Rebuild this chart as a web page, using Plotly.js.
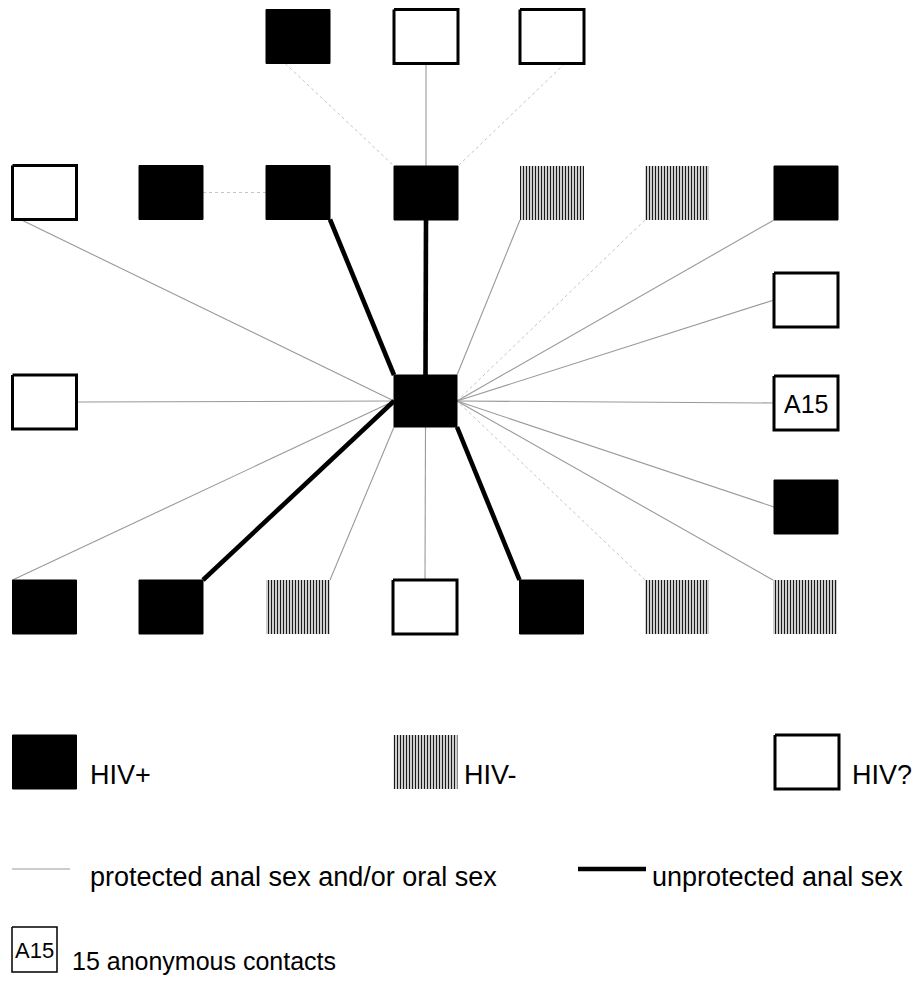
<!DOCTYPE html>
<html>
<head>
<meta charset="utf-8">
<script src="https://cdn.plot.ly/plotly-3.0.1.min.js"></script>
<style>html,body{margin:0;padding:0;background:#fff;}#chart{width:913px;height:995px;}</style>
</head>
<body>
<div id="chart"></div>
<script>
// ---------- DATA ----------
// nodes of the contact network (centre = index case)
const nodeIds     = ['T1','T2','T3','R1','R2','R3','R4','R5','R6','R7','E3','A15','E5','L','C','B1','B2','B3','B4','B5','B6','B7'];
const nodeX       = [298, 426, 552, 44.5, 171, 298, 426, 552, 677, 806, 806, 806, 806, 44.5, 425.5, 44.5, 171, 298, 425, 551.5, 677, 805];
const nodeY       = [36.5, 36.5, 36.5, 192.5, 192.5, 192.5, 193, 193, 193, 193, 300, 403, 507, 402, 401, 607, 607, 607, 607, 607, 607, 607];
const nodeStatus  = ['pos','unk','unk','unk','pos','pos','pos','neg','neg','pos','unk','unk','pos','unk','pos','pos','pos','neg','unk','pos','neg','neg'];
const nodeLabel   = ['','','','','','','','','','','','A15','','','','','','','','','',''];

// edges: source, target, contact type ('prot' = protected anal/oral sex, 'unprot' = unprotected anal sex)
const edgeSource  = ['T1','T2','T3','R1','R2','R3','R4','R5','R6','R7','E3','A15','E5','B7','B6','B5','B4','B3','B2','B1','L'];
const edgeTarget  = ['R4','R4','R4','C','R3','C','C','C','C','C','C','C','C','C','C','C','C','C','C','C','C'];
const edgeType    = ['prot','prot','prot','prot','prot','unprot','unprot','prot','prot','prot','prot','prot','prot','prot','prot','unprot','prot','prot','unprot','prot','prot'];
// where on each box the line attaches (fraction of half-width / half-height; y down)
const edgeSrcAnchorX = [-0.4, 0, 0.4, -0.75, 1, 1, 0, -1, -1, -1, -1, -1, -1, -1, -1, -1, 0, 1, 1, -1, 1];
const edgeSrcAnchorY = [1, 1, 1, 1, 0, 1, 1, 1, 1, 1, 0, 0, 0, -1, -1, -1, -1, -1, -1, -1, 0];
const edgeDstAnchorX = [-1, 0, 1, -1, -1, -1, 0, 1, 1, 1, 1, 1, 1, 1, 1, 1, 0, -1, -1, -1, -1];
const edgeDstAnchorY = [-1, -1, -1, 0, 0, -1, -1, -1, 0, 0, 0, 0, 0, 0, 0, 1, 1, 1, 0, 0, 0];
const edgeFaint   = [true, false, true, false, true, false, false, false, true, false, false, false, false, false, true, false, false, false, false, false, false];

// legend
const legendStatus = ['pos','neg','unk'];
const legendLabels = ['HIV+','HIV-','HIV?'];
const lineLegendTypes  = ['prot','unprot'];
const lineLegendLabels = ['protected anal sex and/or oral sex','unprotected anal sex'];
const anonLabel = 'A15';
const anonText  = '15 anonymous contacts';

// ---------- STYLE / LAYOUT CONFIG ----------
const W = 913, H = 995;
const BOX_W = 64, BOX_H = 54;
const CENTER_W = 63, CENTER_H = 52;
const legendBoxX = [44.5, 425.5, 807];
const legendBoxY = 762;
const legendTextX = [88, 462, 850];
const legendTextY = 775;
const lineLegend = [{x0: 12, x1: 70, tx: 88}, {x0: 578, x1: 646, tx: 650}];
const lineLegendY = 869, lineLegendTextY = 877;
const anonBox = {x0: 12, x1: 57, y0: 927, y1: 972}, anonTextPos = {x: 70, y: 961};
const FONT = 'Liberation Sans, Arial, sans-serif';
const TEXT_SIZE = 27;

const idx = {};
nodeIds.forEach((id, i) => idx[id] = i);
function boxSize(i){ return nodeIds[i] === 'C' ? [CENTER_W, CENTER_H] : [BOX_W, BOX_H]; }

const traces = [];

// edges
const styles = {
  prot:  {color: '#999999', width: 1.1, dash: 'solid'},
  faint: {color: '#c4c4c4', width: 1, dash: 'dot'},
  unprot:{color: '#000', width: 4.6, dash: 'solid'}
};
const groups = {prot: {x: [], y: []}, faint: {x: [], y: []}, unprot: {x: [], y: []}};
edgeSource.forEach((s, k) => {
  const a = idx[s], b = idx[edgeTarget[k]];
  const [wa, ha] = boxSize(a), [wb, hb] = boxSize(b);
  const x0 = nodeX[a] + edgeSrcAnchorX[k] * wa / 2, y0 = nodeY[a] + edgeSrcAnchorY[k] * ha / 2;
  const x1 = nodeX[b] + edgeDstAnchorX[k] * wb / 2, y1 = nodeY[b] + edgeDstAnchorY[k] * hb / 2;
  const g = edgeType[k] === 'unprot' ? 'unprot' : (edgeFaint[k] ? 'faint' : 'prot');
  groups[g].x.push(x0, x1, null); groups[g].y.push(y0, y1, null);
});
['faint', 'prot', 'unprot'].forEach(g => {
  traces.push({type: 'scatter', mode: 'lines', x: groups[g].x, y: groups[g].y,
    line: {color: styles[g].color, width: styles[g].width, dash: styles[g].dash},
    hoverinfo: 'skip', showlegend: false});
});

// boxes
function boxTrace(cx, cy, w, h, status){
  const x0 = cx - w / 2, x1 = cx + w / 2, y0 = cy - h / 2, y1 = cy + h / 2;
  const t = {type: 'scatter', mode: 'lines', x: [x0, x1, x1, x0, x0], y: [y0, y0, y1, y1, y0],
    fill: 'toself', hoverinfo: 'skip', showlegend: false};
  if (status === 'pos') { t.fillcolor = '#000'; t.line = {color: '#000', width: 1}; }
  else if (status === 'unk') { t.fillcolor = '#fff'; t.line = {color: '#000', width: 3}; }
  else { t.fillcolor = '#fff'; t.line = {color: 'rgba(0,0,0,0)', width: 0};
    t.fillpattern = {shape: '|', size: 3, solidity: 0.45, fgcolor: '#1a1a1a', bgcolor: '#f4f4f4'}; }
  return t;
}
nodeIds.forEach((id, i) => {
  const [w, h] = boxSize(i);
  traces.push(boxTrace(nodeX[i], nodeY[i], w, h, nodeStatus[i]));
});

// legend boxes
legendStatus.forEach((s, i) => traces.push(boxTrace(legendBoxX[i], legendBoxY, BOX_W, BOX_H, s)));
// legend lines
lineLegendTypes.forEach((t, i) => {
  const st = styles[t];
  traces.push({type: 'scatter', mode: 'lines', x: [lineLegend[i].x0, lineLegend[i].x1], y: [lineLegendY, lineLegendY],
    line: {color: st.color, width: st.width}, hoverinfo: 'skip', showlegend: false});
});
// anonymous legend box
traces.push(boxTrace((anonBox.x0 + anonBox.x1) / 2, (anonBox.y0 + anonBox.y1) / 2,
  anonBox.x1 - anonBox.x0, anonBox.y1 - anonBox.y0, 'unk'));
traces[traces.length - 1].line.width = 1.5;

// annotations
const annotations = [];
nodeIds.forEach((id, i) => {
  if (nodeLabel[i]) annotations.push({x: nodeX[i], y: nodeY[i] + 1, text: nodeLabel[i], showarrow: false,
    xanchor: 'center', yanchor: 'middle', font: {family: FONT, size: 25, color: '#000'}});
});
legendLabels.forEach((l, i) => annotations.push({x: legendTextX[i], y: legendTextY, text: l, showarrow: false,
  xanchor: 'left', yanchor: 'middle', font: {family: FONT, size: TEXT_SIZE, color: '#000'}}));
lineLegendLabels.forEach((l, i) => annotations.push({x: lineLegend[i].tx, y: lineLegendTextY, text: l, showarrow: false,
  xanchor: 'left', yanchor: 'middle', font: {family: FONT, size: TEXT_SIZE, color: '#000'}}));
annotations.push({x: (anonBox.x0 + anonBox.x1) / 2, y: (anonBox.y0 + anonBox.y1) / 2 + 1, text: anonLabel, showarrow: false,
  xanchor: 'center', yanchor: 'middle', font: {family: FONT, size: 22, color: '#000'}});
annotations.push({x: anonTextPos.x, y: anonTextPos.y, text: anonText, showarrow: false,
  xanchor: 'left', yanchor: 'middle', font: {family: FONT, size: 25, color: '#000'}});

const layout = {
  width: W, height: H,
  margin: {l: 0, r: 0, t: 0, b: 0},
  paper_bgcolor: '#fff', plot_bgcolor: '#fff',
  showlegend: false,
  xaxis: {range: [0, W], visible: false, fixedrange: true},
  yaxis: {range: [H, 0], visible: false, fixedrange: true},
  annotations: annotations
};
Plotly.newPlot('chart', traces, layout, {displayModeBar: false, staticPlot: true});
</script>
</body>
</html>
